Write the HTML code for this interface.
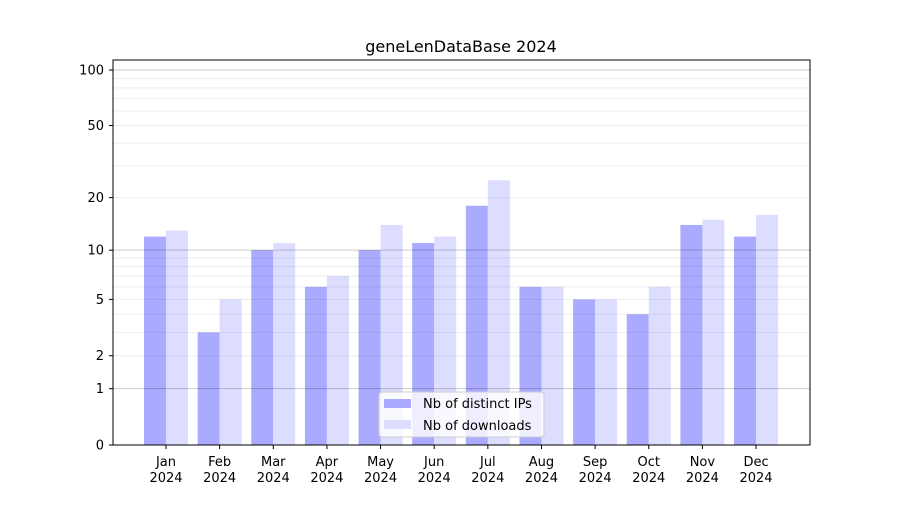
<!DOCTYPE html><html><head><meta charset="utf-8"><style>body{margin:0;background:#fff}svg{font-family:"DejaVu Sans","Liberation Sans",sans-serif}</style></head><body>
<svg id="s" width="900" height="500" xmlns="http://www.w3.org/2000/svg"></svg>
<script>
const s=document.getElementById('s');let h='';
const Y=v=>445-187.1*Math.log10(1+v);
const ips=[12,3,10,6,10,11,18,6,5,4,14,12],dl=[13,5,11,7,14,12,25,6,5,6,15,16];
const m=['Jan','Feb','Mar','Apr','May','Jun','Jul','Aug','Sep','Oct','Nov','Dec'];
for(let i=0;i<12;i++){const c=166+i*53.64;
h+=`<rect x="${c-22}" y="${Y(ips[i])}" width="22" height="${445-Y(ips[i])}" fill="#aaaaff"/>`;
h+=`<rect x="${c}" y="${Y(dl[i])}" width="22" height="${445-Y(dl[i])}" fill="#ddddff"/>`;
h+=`<line x1="${c}" y1="445" x2="${c}" y2="449" stroke="#000"/>`;
h+=`<text x="${c}" y="466" font-size="13" text-anchor="middle">${m[i]}</text><text x="${c}" y="482" font-size="13" text-anchor="middle">2024</text>`;}
for(const d of [1,10])for(let k=2;k<10;k++){if(k*d>113)continue;const y=Y(k*d);h+=`<line x1="113" y1="${y}" x2="810" y2="${y}" stroke="#000" stroke-opacity="0.07"/>`;}
for(const v of [1,10,100]){const y=Y(v);h+=`<line x1="113" y1="${y}" x2="810" y2="${y}" stroke="#000" stroke-opacity="0.2"/>`;}
for(const v of [0,1,2,5,10,20,50,100]){const y=Y(v);h+=`<line x1="109" y1="${y}" x2="113" y2="${y}" stroke="#000"/><text x="104" y="${y+4.5}" font-size="13" text-anchor="end">${v}</text>`;}
h+=`<rect x="113" y="60" width="697" height="385" fill="none" stroke="#000"/>`;
h+=`<text x="461" y="52" font-size="16" text-anchor="middle">geneLenDataBase 2024</text>`;
h+=`<rect x="379" y="392" width="165" height="45" rx="3" fill="#fff" fill-opacity="0.8" stroke="#ccc"/>`;
h+=`<rect x="384" y="399" width="27" height="9" fill="#aaaaff"/><text x="423" y="408" font-size="13">Nb of distinct IPs</text>`;
h+=`<rect x="384" y="420" width="27" height="9" fill="#ddddff"/><text x="423" y="430" font-size="13">Nb of downloads</text>`;
s.innerHTML=h;
</script></body></html>
